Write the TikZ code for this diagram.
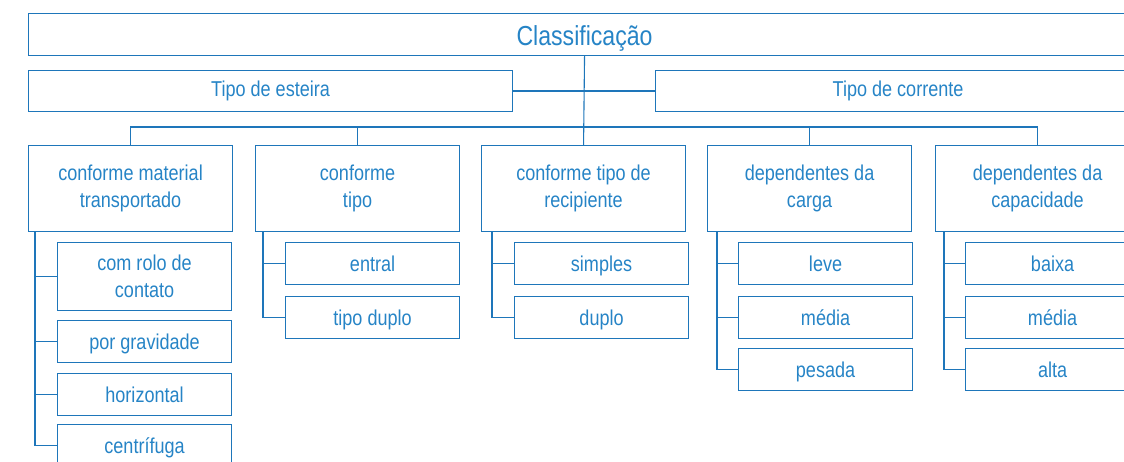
\documentclass[tikz,border=0pt]{standalone}
\usepackage{fontspec}
\setmainfont[FakeStretch=0.84]{Liberation Sans}
\usetikzlibrary{positioning}
\definecolor{chartline}{RGB}{30,118,186}
\definecolor{charttext}{RGB}{38,132,198}
\tikzstyle{every picture}=[x=1pt, y=-1pt, line width=1.1pt]

\begin{document}
\begin{tikzpicture}[
	box/.style={
		rectangle,draw=chartline,anchor=north west,inner sep=0pt,
		text=charttext,align=center,font=\fontsize{21.5}{26.5}\selectfont},
	catnode/.style={box,minimum width=204pt,minimum height=86pt},
	leafnode/.style={box,minimum width=174pt,minimum height=42pt,
		text height=19pt,text depth=3pt},
	link/.style={draw=chartline}
	]
	\useasboundingbox (0,0) rectangle (1124,462);
	% TOP
	\node [box, minimum width=1112pt, minimum height=42pt, text height=24pt, text depth=2pt,
		font=\fontsize{27.5}{32}\selectfont] (classif) at (28,13) {Classificação};
	\node [box, minimum width=484pt, minimum height=41pt] (tipoEsteira) at (28,70) {Tipo de esteira};
	\node [box, minimum width=485pt, minimum height=41pt] (tipoCorr) at (655,70) {Tipo de corrente};
	% CATEGORIES
	\node [catnode] (matTransp) at (28,145) {conforme material\\transportado};
	\node [catnode] (confTipo) at (255,145) {conforme\\tipo};
	\node [catnode] (recip) at (481,145) {conforme tipo de\\recipiente};
	\node [catnode] (carga) at (707,145) {dependentes da\\carga};
	\node [catnode] (capac) at (935,145) {dependentes da\\capacidade};
	% MATERIAL
	\node [box, minimum width=174pt, minimum height=68pt] (rolo) at (57,242) {com rolo de\\contato};
	\node [leafnode] (gravid) at (57,320) {por gravidade};
	\node [leafnode] (horiz) at (57,373) {horizontal};
	\node [leafnode] (centrif) at (57,424) {centrífuga};
	% TIPO
	\node [leafnode] (entral) at (285,242) {entral};
	\node [leafnode] (tipoDuplo) at (285,296) {tipo duplo};
	% RECIPIENTE
	\node [leafnode] (simples) at (514,242) {simples};
	\node [leafnode] (duplo) at (514,296) {duplo};
	% CARGA
	\node [leafnode] (leve) at (738,242) {leve};
	\node [leafnode] (mediaCarga) at (738,296) {média};
	\node [leafnode] (pesada) at (738,348) {pesada};
	% CAPACIDADE
	\node [leafnode] (baixa) at (965,242) {baixa};
	\node [leafnode] (mediaCap) at (965,296) {média};
	\node [leafnode] (alta) at (965,348) {alta};

	\coordinate (bus) at (584,127);
	\draw [link] (classif.south) -- (recip.north);
	\draw [link] (tipoEsteira.east) -- (tipoCorr.west);
	\draw [link] (matTransp.north) |- (bus) -| (capac.north);
	\draw [link] (confTipo.north) -- (confTipo.north |- bus);
	\draw [link] (carga.north) -- (carga.north |- bus);
	\draw [link] ([xshift=7pt]matTransp.south west) |- (centrif.west);
	\foreach \leaf in {rolo,gravid,horiz}
		\draw [link] ([xshift=7pt]matTransp.south west) |- (\leaf.west);
	\draw [link] ([xshift=8pt]confTipo.south west) |- (tipoDuplo.west);
	\draw [link] ([xshift=8pt]confTipo.south west) |- (entral.west);
	\draw [link] ([xshift=11pt]recip.south west) |- (duplo.west);
	\draw [link] ([xshift=11pt]recip.south west) |- (simples.west);
	\draw [link] ([xshift=10pt]carga.south west) |- (pesada.west);
	\draw [link] ([xshift=10pt]carga.south west) |- (mediaCarga.west);
	\draw [link] ([xshift=10pt]carga.south west) |- (leve.west);
	\draw [link] ([xshift=9pt]capac.south west) |- (alta.west);
	\draw [link] ([xshift=9pt]capac.south west) |- (mediaCap.west);
	\draw [link] ([xshift=9pt]capac.south west) |- (baixa.west);
\end{tikzpicture}
\end{document}
